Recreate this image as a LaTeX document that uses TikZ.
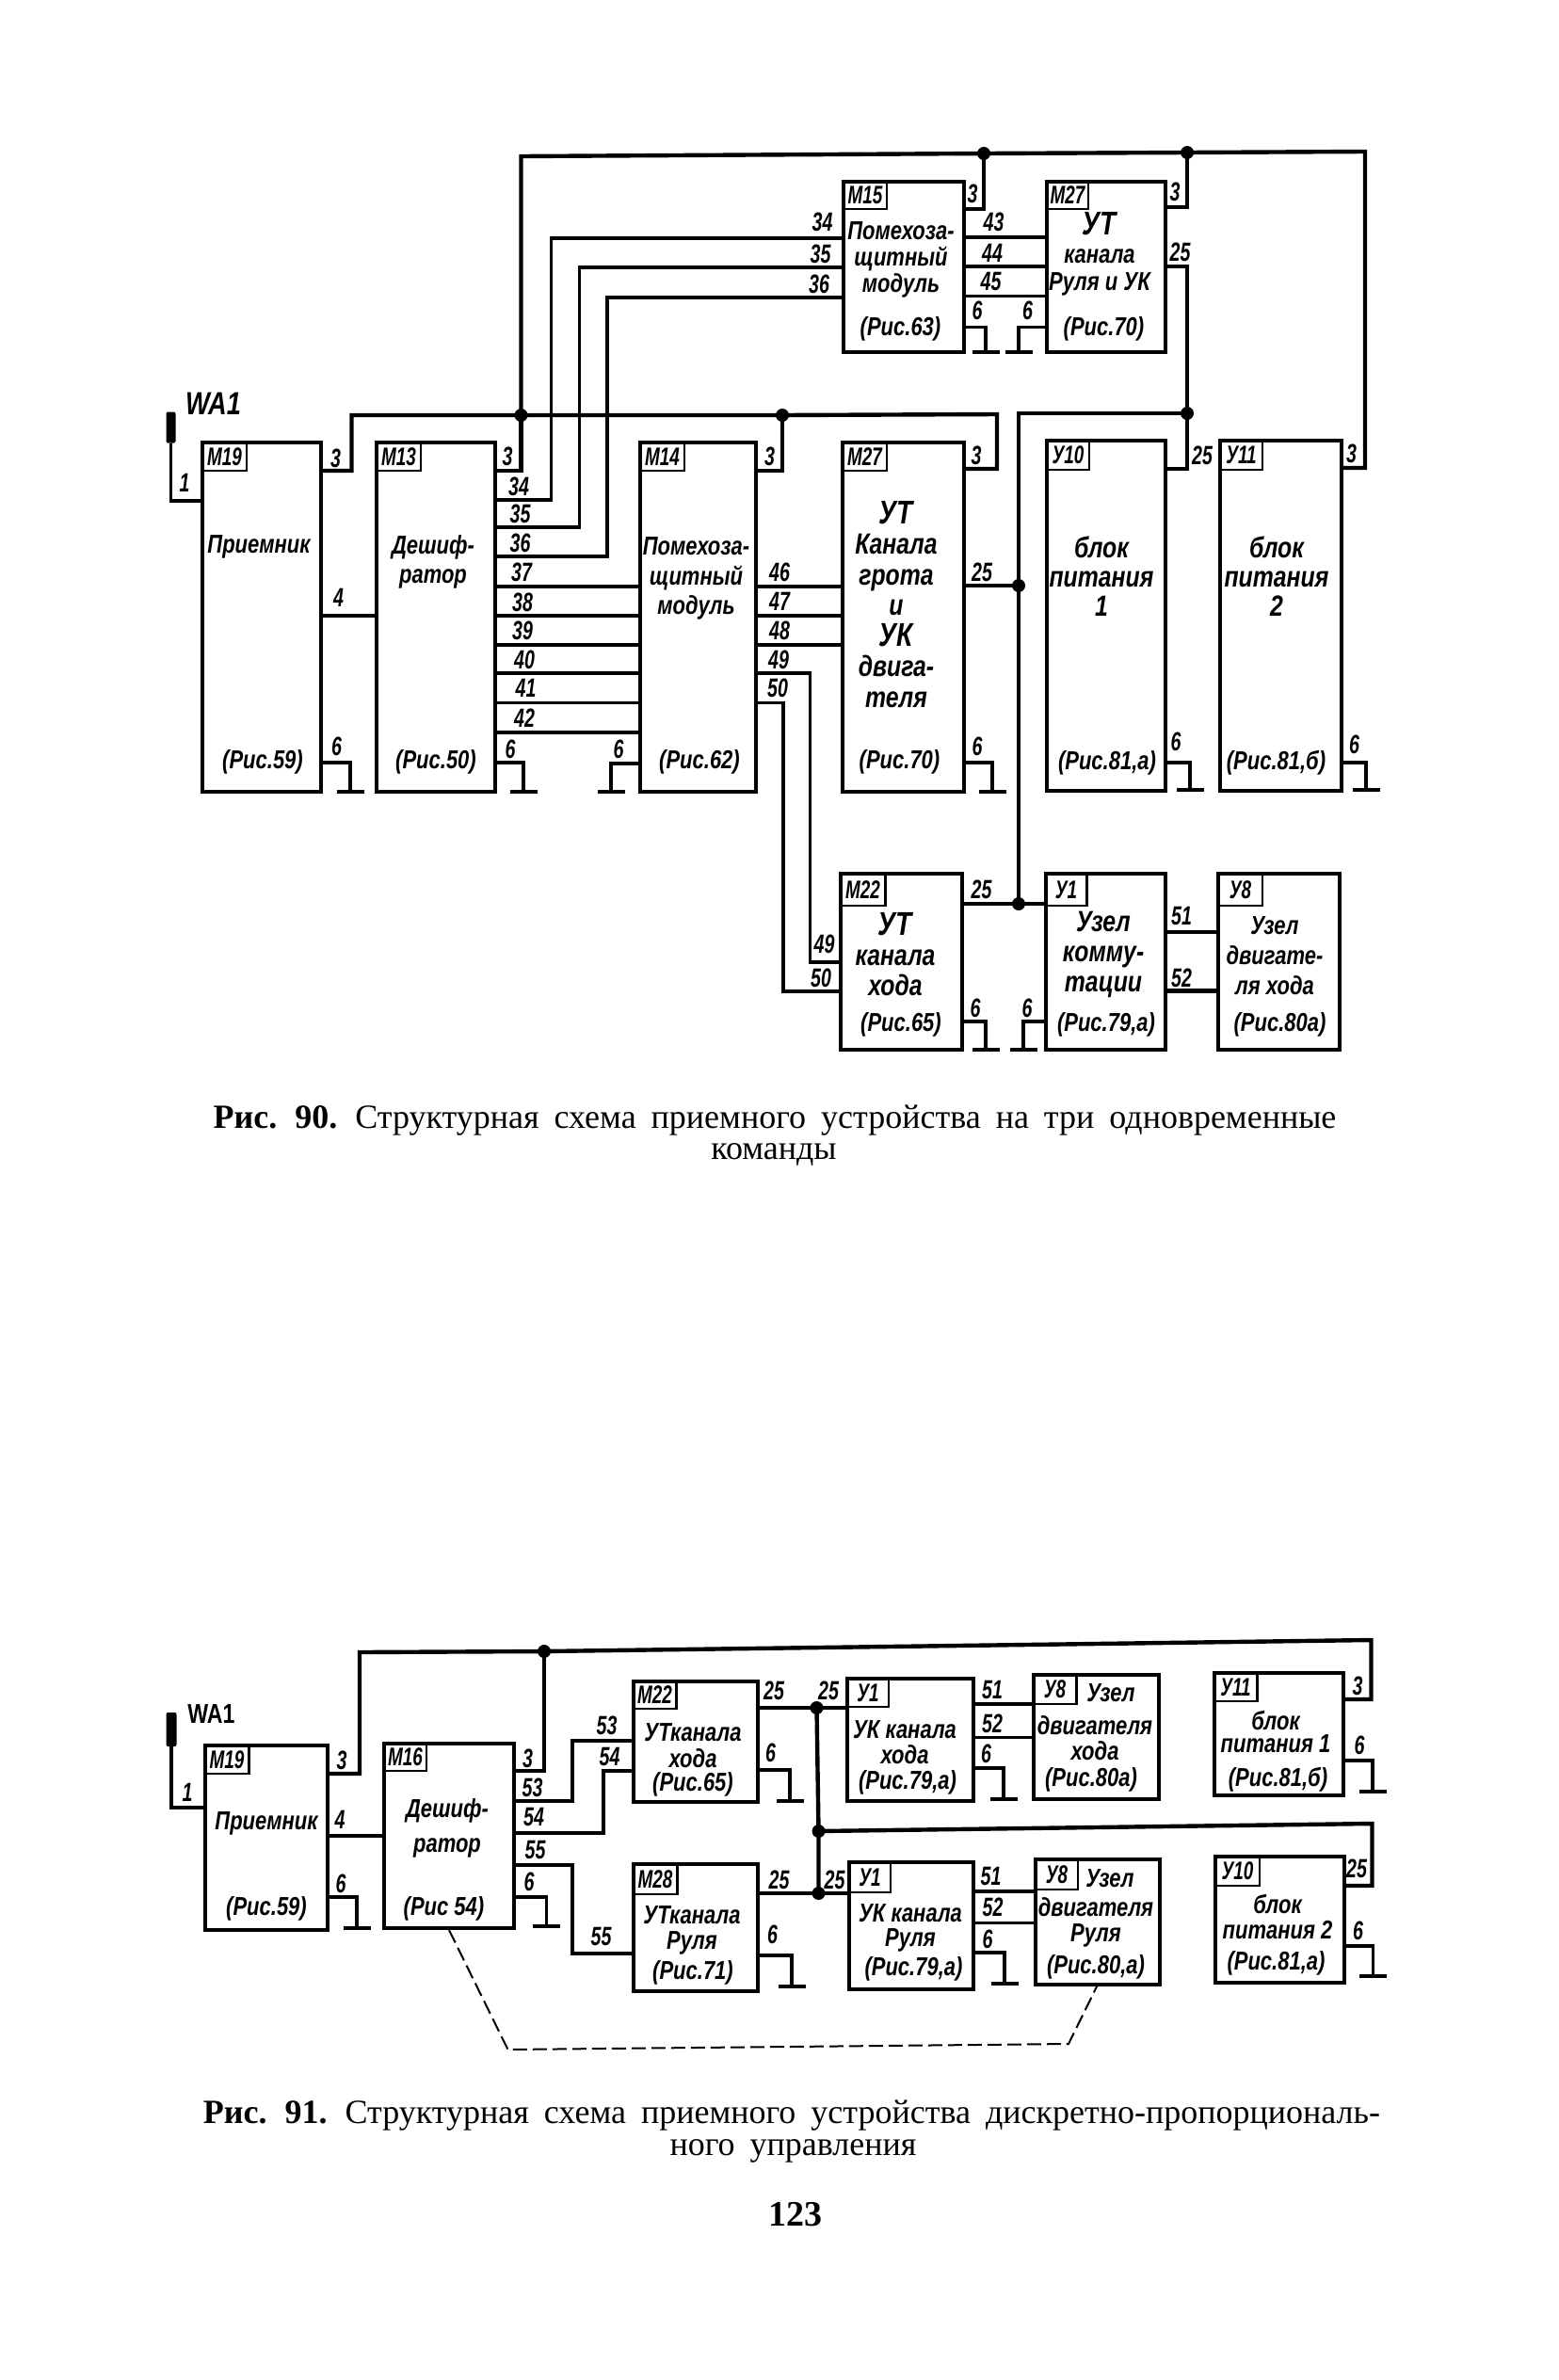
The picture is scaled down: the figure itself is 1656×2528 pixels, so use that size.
\documentclass[tikz,border=0pt]{standalone}
\usepackage{fontspec}
\usepackage{tikz}
\usetikzlibrary{shapes,arrows,positioning}
\newfontfamily\gostfont[FakeStretch=0.8]{Liberation Sans}
\newfontfamily\numfont[FakeStretch=0.7]{Liberation Sans}
\newfontfamily\capfont{Liberation Serif}
\newcommand{\krupno}[1]{{\fontsize{35}{32}\selectfont #1}}

\begin{document}
\begin{tikzpicture}[
  x=1pt, y=-1pt,
  blok/.style 2 args={shape=rectangle, draw, line width=4pt, inner sep=0pt, outer sep=0pt,
      minimum width=#1pt, minimum height=#2pt},
  metka/.style 2 args={shape=rectangle, draw, line width=2.6pt, inner sep=0pt, outer sep=0pt, anchor=north west,
      minimum width=#1pt, minimum height=#2pt, font=\numfont\bfseries\itshape\fontsize{27}{27}\selectfont},
  tekst/.style={align=center, inner sep=0pt, font=\gostfont\bfseries\itshape\fontsize{27.5}{#1}\selectfont},
  tekstw/.style={align=center, inner sep=0pt, font=\gostfont\bfseries\itshape\fontsize{31}{#1}\selectfont},
  nomer/.style={inner sep=0pt, font=\numfont\bfseries\itshape\fontsize{28}{28}\selectfont},
  tochka/.style={shape=circle, fill=black, inner sep=0pt, minimum size=14pt},
  zemlya/.style={shape=rectangle, fill=black, inner sep=0pt, minimum width=29pt, minimum height=4pt},
  antenna/.style 2 args={shape=rectangle, rounded corners=2pt, fill=black, inner sep=0pt,
      minimum width=#1pt, minimum height=#2pt},
  podpis/.style={inner sep=0pt, font=\capfont\fontsize{36}{36}\selectfont,
      execute at begin node={\spaceskip=16pt\relax}},
  shina/.style={line width=4.4pt, line join=miter},
  provod/.style={line width=3.2pt, line join=miter},
  shtrih/.style={line width=2pt, dash pattern=on 15pt off 6pt}
]
\useasboundingbox (0,0) rectangle (1656,2528);

% Blocks, upper scheme
\node[blok={126}{371}] (M19) at (278,655.5) {};
\node[blok={126}{371}] (M13) at (463,655.5) {};
\node[blok={123}{371}] (M14) at (741.5,655.5) {};
\node[blok={129}{371}] (M27b) at (959.5,655.5) {};
\node[blok={126}{372}] (Y10) at (1175,654) {};
\node[blok={129}{372}] (Y11) at (1360.5,654) {};
\node[blok={128}{181}] (M15) at (960,283.5) {};
\node[blok={126}{181}] (M27a) at (1175,283.5) {};
\node[blok={129}{187}] (M22) at (957,1021.5) {};
\node[blok={127}{187}] (Y1) at (1174,1021.5) {};
\node[blok={129}{187}] (Y8) at (1358.5,1021.5) {};

\node[metka={47}{30}] (tM19) at (M19.north west) {М19};
\node[metka={47}{30}] (tM13) at (M13.north west) {М13};
\node[metka={47}{30}] (tM14) at (M14.north west) {М14};
\node[metka={47}{30}] (tM27b) at (M27b.north west) {М27};
\node[metka={45}{31}] (tY10) at (Y10.north west) {У10};
\node[metka={45}{31}] (tY11) at (Y11.north west) {У11};
\node[metka={46}{29}] (tM15) at (M15.north west) {М15};
\node[metka={44}{29}] (tM27a) at (M27a.north west) {М27};
\node[metka={48}{34}] (tM22) at (M22.north west) {М22};
\node[metka={44}{34}] (tY1) at (Y1.north west) {У1};
\node[metka={47}{34}] (tY8) at (Y8.north west) {У8};

% Junctions and grounds
\node[tochka] (j1) at (553.5,441) {};
\node[tochka] (j2) at (1045,163) {};
\node[tochka] (j3) at (1261,162) {};
\node[tochka] (j4) at (831,441) {};
\node[tochka] (j5) at (1261,439) {};
\node[tochka] (j6) at (1082,622) {};
\node[tochka] (j7) at (1082,960) {};

\node[zemlya] (g1) at (372,841) {};
\node[zemlya] (g2) at (556,841) {};
\node[zemlya] (g3) at (649,841) {};
\node[zemlya] (g4) at (1054,841) {};
\node[zemlya] (g5) at (1264,839) {};
\node[zemlya] (g6) at (1451,839) {};
\node[zemlya] (g7) at (1047,374) {};
\node[zemlya] (g8) at (1082,374) {};
\node[zemlya] (g9) at (1047,1115) {};
\node[zemlya] (g10) at (1087,1115) {};

\node[antenna={10}{33}] (WA) at (181.5,454) {};

% Wires, upper scheme
\draw[provod] (WA.south) |- (M19.west |- 0,532);
\draw[shina] (j1.center) -- (553.5,166) -- (j2.center) -- (j3.center) -- (1450,161) -- (1450,497) -- (Y11.east |- 0,497);
\draw[shina] (M13.east |- 0,500) -| (j1.center);
\draw[shina] (M15.east |- 0,222) -| (j2.center);
\draw[shina] (M27a.east |- 0,220) -| (j3.center);
\draw[shina] (M19.east |- 0,500) -| (373.5,441) -- (j1.center) -- (j4.center) -- (1059,440) -- (1059,498) -- (M27b.east |- 0,498);
\draw[shina] (M14.east |- 0,500) -| (j4.center);
\draw[shina] (M27a.east |- 0,283) -| (j5.center);
\draw[shina] (j5.center) |- (Y10.east |- 0,498);
\draw[shina] (j5.center) -- (1082,439) -- (j6.center) -- (j7.center);
\draw[shina] (M27b.east |- 0,622) -- (j6.center);
\draw[shina] (M22.east |- 0,960) -- (Y1.west |- 0,960);

\draw[provod] (M19.east |- 0,654) -- (M13.west |- 0,654);
\draw[provod] (M13.east |- 0,531) -- (585.5,531) -- (585.5,253) -- (M15.west |- 0,253);
\draw[provod] (M13.east |- 0,560) -- (615.5,560) -- (615.5,284) -- (M15.west |- 0,284);
\draw[provod] (M13.east |- 0,591) -- (645,591) -- (645,316) -- (M15.west |- 0,316);
\draw[provod] (M13.east |- 0,623) -- (M14.west |- 0,623);
\draw[provod] (M13.east |- 0,654) -- (M14.west |- 0,654);
\draw[provod] (M13.east |- 0,685) -- (M14.west |- 0,685);
\draw[provod] (M13.east |- 0,715) -- (M14.west |- 0,715);
\draw[provod] (M13.east |- 0,746.5) -- (M14.west |- 0,746.5);
\draw[provod] (M13.east |- 0,778) -- (M14.west |- 0,778);
\draw[provod] (M14.east |- 0,623) -- (M27b.west |- 0,623);
\draw[provod] (M14.east |- 0,654) -- (M27b.west |- 0,654);
\draw[provod] (M14.east |- 0,685) -- (M27b.west |- 0,685);
\draw[provod] (M14.east |- 0,715) -- (860.5,715) -- (860.5,1022) -- (M22.west |- 0,1022);
\draw[provod] (M14.east |- 0,746.5) -- (832,746.5) -- (832,1053) -- (M22.west |- 0,1053);
\draw[provod] (M15.east |- 0,252) -- (M27a.west |- 0,252);
\draw[provod] (M15.east |- 0,283) -- (M27a.west |- 0,283);
\draw[provod] (M15.east |- 0,314.5) -- (M27a.west |- 0,314.5);
\draw[shina] (Y1.east |- 0,990) -- (Y8.west |- 0,990);
\draw[shina] (Y1.east |- 0,1052.5) -- (Y8.west |- 0,1052.5);

\draw[provod] (M19.east |- 0,810) -| (g1.center);
\draw[provod] (M13.east |- 0,810) -| (g2.center);
\draw[provod] (M14.west |- 0,811) -| (g3.center);
\draw[provod] (M27b.east |- 0,810) -| (g4.center);
\draw[provod] (Y10.east |- 0,810) -| (g5.center);
\draw[provod] (Y11.east |- 0,810) -| (g6.center);
\draw[provod] (M15.east |- 0,347.5) -| (g7.center);
\draw[provod] (M27a.west |- 0,347.5) -| (g8.center);
\draw[provod] (M22.east |- 0,1085) -| (g9.center);
\draw[provod] (Y1.west |- 0,1085) -| (g10.center);

% Block texts, upper scheme
\node[tekst=31] (x1) at (275,581) {Приемник};
\node[tekst=31] (x2) at (279,809) {(Рис.59)};
\node[tekst=31] (x3) at (460,597) {Дешиф-\\ратор};
\node[tekst=31] (x4) at (463,809) {(Рис.50)};
\node[tekst=31.5] (x5) at (739.5,614.5) {Помехоза-\\щитный\\модуль};
\node[tekst=31] (x6) at (743,809) {(Рис.62)};
\node[tekst=28] (x7) at (957,276) {Помехоза-\\щитный\\модуль};
\node[tekst=31] (x8) at (956.5,349) {(Рис.63)};
\node[tekst=29.5] (x9) at (1168,270) {\krupno{УТ}\\канала\\Руля и УК};
\node[tekst=31] (x10) at (1172.5,349) {(Рис.70)};
\node[tekstw=32.5] (x11) at (952,642) {\krupno{УТ}\\Канала\\грота\\и\\\krupno{УК}\\двига-\\теля};
\node[tekst=31] (x12) at (955.5,809) {(Рис.70)};
\node[tekstw=31] (x13) at (1170,612) {блок\\питания\\1};
\node[tekst=31] (x14) at (1176,810) {(Рис.81,а)};
\node[tekstw=31] (x15) at (1356,612) {блок\\питания\\2};
\node[tekst=31] (x16) at (1355.5,810) {(Рис.81,б)};
\node[tekstw=32] (x17) at (951,1014) {\krupno{УТ}\\канала\\хода};
\node[tekst=31] (x18) at (957,1088) {(Рис.65)};
\node[tekstw=32] (x19) at (1172,1013.5) {Узел\\комму-\\тации};
\node[tekst=31] (x20) at (1175,1088) {(Рис.79,а)};
\node[tekst=32] (x21) at (1354,1015.5) {Узел\\двигате-\\ля хода};
\node[tekst=31] (x22) at (1359.5,1088) {(Рис.80а)};

% Numbers, upper scheme
\node[nomer, font=\gostfont\bfseries\itshape\fontsize{34}{34}\selectfont] (n0) at (226.5,429) {WA1};
\node[nomer] (n1) at (196,513) {1};
\node[nomer] (n2) at (356.5,486.5) {3};
\node[nomer] (n3) at (359.5,635) {4};
\node[nomer] (n4) at (357.5,793) {6};
\node[nomer] (n5) at (539,485) {3};
\node[nomer] (n6) at (551,516.5) {34};
\node[nomer] (n7) at (552.5,546) {35};
\node[nomer] (n8) at (552.5,577) {36};
\node[nomer] (n9) at (554,608) {37};
\node[nomer] (n10) at (555,639.5) {38};
\node[nomer] (n11) at (555,670) {39};
\node[nomer] (n12) at (557,701) {40};
\node[nomer] (n13) at (558.5,731) {41};
\node[nomer] (n14) at (557,763) {42};
\node[nomer] (n15) at (542,796) {6};
\node[nomer] (n16) at (657,796) {6};
\node[nomer] (n17) at (817.5,485) {3};
\node[nomer] (n18) at (828,608) {46};
\node[nomer] (n19) at (828,639) {47};
\node[nomer] (n20) at (828,670) {48};
\node[nomer] (n21) at (827,701) {49};
\node[nomer] (n22) at (826,731) {50};
\node[nomer] (n23) at (873.5,236) {34};
\node[nomer] (n24) at (871.5,270) {35};
\node[nomer] (n25) at (870,301.5) {36};
\node[nomer] (n26) at (1033,205.5) {3};
\node[nomer] (n27) at (1055.5,235.5) {43};
\node[nomer] (n28) at (1054,268.5) {44};
\node[nomer] (n29) at (1052.5,299) {45};
\node[nomer] (n30) at (1038,329.5) {6};
\node[nomer] (n31) at (1091.5,329.5) {6};
\node[nomer] (n32) at (1248,204) {3};
\node[nomer] (n33) at (1253.5,267.5) {25};
\node[nomer] (n34) at (1037,484) {3};
\node[nomer] (n35) at (1043,608) {25};
\node[nomer] (n36) at (1038,793) {6};
\node[nomer] (n37) at (1277,484) {25};
\node[nomer] (n38) at (1249,788) {6};
\node[nomer] (n39) at (1435.5,482) {3};
\node[nomer] (n40) at (1438.5,791) {6};
\node[nomer] (n41) at (875.5,1003) {49};
\node[nomer] (n42) at (872,1039) {50};
\node[nomer] (n43) at (1042.5,945) {25};
\node[nomer] (n44) at (1036,1070.5) {6};
\node[nomer] (n45) at (1091,1070.5) {6};
\node[nomer] (n46) at (1255,973) {51};
\node[nomer] (n47) at (1255,1039) {52};

% Blocks, lower scheme
\node[blok={130}{196}] (P19) at (282.5,1952) {};
\node[blok={138}{196}] (P16) at (477,1950) {};
\node[blok={132}{128}] (P22) at (738.5,1850) {};
\node[blok={132}{135}] (P28) at (738.5,2047.5) {};
\node[blok={134}{130}] (R1a) at (967,1848) {};
\node[blok={132}{135}] (R1b) at (968,2045.5) {};
\node[blok={133}{132}] (R8a) at (1164,1845) {};
\node[blok={132}{133}] (R8b) at (1166,2041.5) {};
\node[blok={137}{130}] (R11) at (1358,1842) {};
\node[blok={137}{134}] (R10) at (1359.5,2039) {};

\node[metka={47}{30}] (tP19) at (P19.north west) {М19};
\node[metka={45}{29}] (tP16) at (P16.north west) {М16};
\node[metka={46}{29}] (tP22) at (P22.north west) {М22};
\node[metka={47}{32}] (tP28) at (P28.north west) {М28};
\node[metka={44}{30}] (tR1a) at (R1a.north west) {У1};
\node[metka={44}{32}] (tR1b) at (R1b.north west) {У1};
\node[metka={46}{31}] (tR8a) at (R8a.north west) {У8};
\node[metka={45}{32}] (tR8b) at (R8b.north west) {У8};
\node[metka={46}{30}] (tR11) at (R11.north west) {У11};
\node[metka={47}{31}] (tR10) at (R10.north west) {У10};

\node[tochka] (k1) at (578,1754) {};
\node[tochka] (k2) at (867.5,1814) {};
\node[tochka] (k3) at (869.5,1945) {};
\node[tochka] (k4) at (869.5,2011) {};

\node[zemlya] (h1) at (379,2048) {};
\node[zemlya] (h2) at (580.5,2046) {};
\node[zemlya] (h3) at (839,1913) {};
\node[zemlya] (h4) at (841,2110) {};
\node[zemlya] (h5) at (1066,1911) {};
\node[zemlya] (h6) at (1067,2107) {};
\node[zemlya] (h7) at (1458,1903) {};
\node[zemlya] (h8) at (1458.5,2099) {};

\node[antenna={11}{36}] (WB) at (182,1837) {};

% Wires, lower scheme
\draw[provod] (WB.south) |- (P19.west |- 0,1920);
\draw[shina] (P19.east |- 0,1884) -| (382,1755) -- (k1.center) -- (1456.5,1742) -- (1456.5,1805) -- (R11.east |- 0,1805);
\draw[provod] (P16.east |- 0,1881) -| (k1.center);
\draw[provod] (P19.east |- 0,1950) -- (P16.west |- 0,1950);
\draw[provod] (P16.east |- 0,1913) -- (608,1913) -- (608,1849) -- (P22.west |- 0,1849);
\draw[provod] (P16.east |- 0,1947) -- (641,1947) -- (641,1881) -- (P22.west |- 0,1881);
\draw[provod] (P16.east |- 0,1981) -- (608,1981) -- (608,2075) -- (P28.west |- 0,2075);
\draw[provod] (P22.east |- 0,1814) -- (k2.center) -- (R1a.west |- 0,1814);
\draw[provod] (P28.east |- 0,2011) -- (k4.center) -- (R1b.west |- 0,2011);
\draw[shina] (k2.center) -- (k3.center) -- (k4.center);
\draw[shina] (k3.center) -- (1457.5,1937) -- (1457.5,2003) -- (R10.east |- 0,2003);
\draw[provod] (R1a.east |- 0,1810) -- (R8a.west |- 0,1810);
\draw[provod] (R1a.east |- 0,1845.5) -- (R8a.west |- 0,1845.5);
\draw[provod] (R1b.east |- 0,2009) -- (R8b.west |- 0,2009);
\draw[provod] (R1b.east |- 0,2042.5) -- (R8b.west |- 0,2042.5);

\draw[provod] (P19.east |- 0,2015) -| (h1.center);
\draw[provod] (P16.east |- 0,2015) -| (h2.center);
\draw[provod] (P22.east |- 0,1880) -| (h3.center);
\draw[provod] (P28.east |- 0,2077) -| (h4.center);
\draw[provod] (R1a.east |- 0,1878) -| (h5.center);
\draw[provod] (R1b.east |- 0,2074) -| (h6.center);
\draw[provod] (R11.east |- 0,1870) -| (h7.center);
\draw[provod] (R10.east |- 0,2067) -| (h8.center);

\draw[shtrih] (P16.south |- 0,2050) -- (539.5,2177) -- (1135,2171) -- (R8b.south -| 1166,0);

% Block texts, lower scheme
\node[tekst=31] (y1) at (283,1937) {Приемник};
\node[tekst=31] (y2) at (283,2027) {(Рис.59)};
\node[tekst=37] (y3) at (475,1941.5) {Дешиф-\\ратор};
\node[tekst=31] (y4) at (471.5,2027) {(Рис 54)};
\node[tekst=27.5] (y5) at (736,1854) {УТканала\\хода};
\node[tekst=31] (y6) at (736,1895.5) {(Рис.65)};
\node[tekst=27] (y7) at (735,2050) {УТканала\\Руля};
\node[tekst=31] (y8) at (736,2095) {(Рис.71)};
\node[tekst=27] (y9) at (961,1850.5) {УК канала\\хода};
\node[tekst=31] (y10) at (964,1893) {(Рис.79,а)};
\node[tekst=26] (y11) at (967,2048) {УК канала\\Руля};
\node[tekst=31] (y12) at (970.5,2091.5) {(Рис.79,а)};
\node[tekst=31] (y13) at (1180,1798) {Узел};
\node[tekst=27] (y14) at (1163,1846.5) {двигателя\\хода};
\node[tekst=31] (y15) at (1159,1890.5) {(Рис.80а)};
\node[tekst=31] (y16) at (1179,1995) {Узел};
\node[tekst=27.5] (y17) at (1164,2042) {двигателя\\Руля};
\node[tekst=31] (y18) at (1164,2089) {(Рис.80,а)};
\node[tekst=24] (y19) at (1355,1840) {блок\\питания 1};
\node[tekst=31] (y20) at (1357.5,1890) {(Рис.81,б)};
\node[tekst=27] (y21) at (1357,2036.5) {блок\\питания 2};
\node[tekst=31] (y22) at (1355.5,2085) {(Рис.81,а)};

% Numbers, lower scheme
\node[nomer, font=\gostfont\bfseries\fontsize{29}{29}\selectfont] (m0) at (224.5,1820.5) {WA1};
\node[nomer] (m1) at (199,1904) {1};
\node[nomer] (m2) at (363,1870) {3};
\node[nomer] (m3) at (361,1933) {4};
\node[nomer] (m4) at (362,2001) {6};
\node[nomer] (m5) at (560.5,1868) {3};
\node[nomer] (m6) at (565.5,1899) {53};
\node[nomer] (m7) at (567,1930) {54};
\node[nomer] (m8) at (568.5,1965) {55};
\node[nomer] (m9) at (562,1999) {6};
\node[nomer] (m10) at (644.5,1833) {53};
\node[nomer] (m11) at (647.5,1866) {54};
\node[nomer] (m12) at (638.5,2057) {55};
\node[nomer] (m13) at (822,1796) {25};
\node[nomer] (m14) at (818.5,1861.5) {6};
\node[nomer] (m15) at (827.5,1996.5) {25};
\node[nomer] (m16) at (820.5,2055) {6};
\node[nomer] (m17) at (880,1796) {25};
\node[nomer] (m18) at (886.5,1996.5) {25};
\node[nomer] (m19) at (1054,1795) {51};
\node[nomer] (m20) at (1054,1830.5) {52};
\node[nomer] (m21) at (1047.5,1863) {6};
\node[nomer] (m22) at (1052.5,1993) {51};
\node[nomer] (m23) at (1054.5,2026) {52};
\node[nomer] (m24) at (1049,2060) {6};
\node[nomer] (m25) at (1442,1790.5) {3};
\node[nomer] (m26) at (1444,1854) {6};
\node[nomer] (m27) at (1441,1985) {25};
\node[nomer] (m28) at (1442.5,2050.5) {6};

% Captions and page number
\node[podpis] (c1) at (823,1190) {\textbf{Рис. 90.} Структурная схема приемного устройства на три одновременные};
\node[podpis] (c2) at (822,1226) {команды};
\node[podpis] (c3) at (841,2247) {\textbf{Рис. 91.} Структурная схема приемного устройства дискретно-пропорциональ-};
\node[podpis] (c4) at (842.5,2285) {ного управления};
\node[podpis, font=\capfont\bfseries\fontsize{38}{38}\selectfont] (c5) at (845,2352) {123};
\end{tikzpicture}
\end{document}
